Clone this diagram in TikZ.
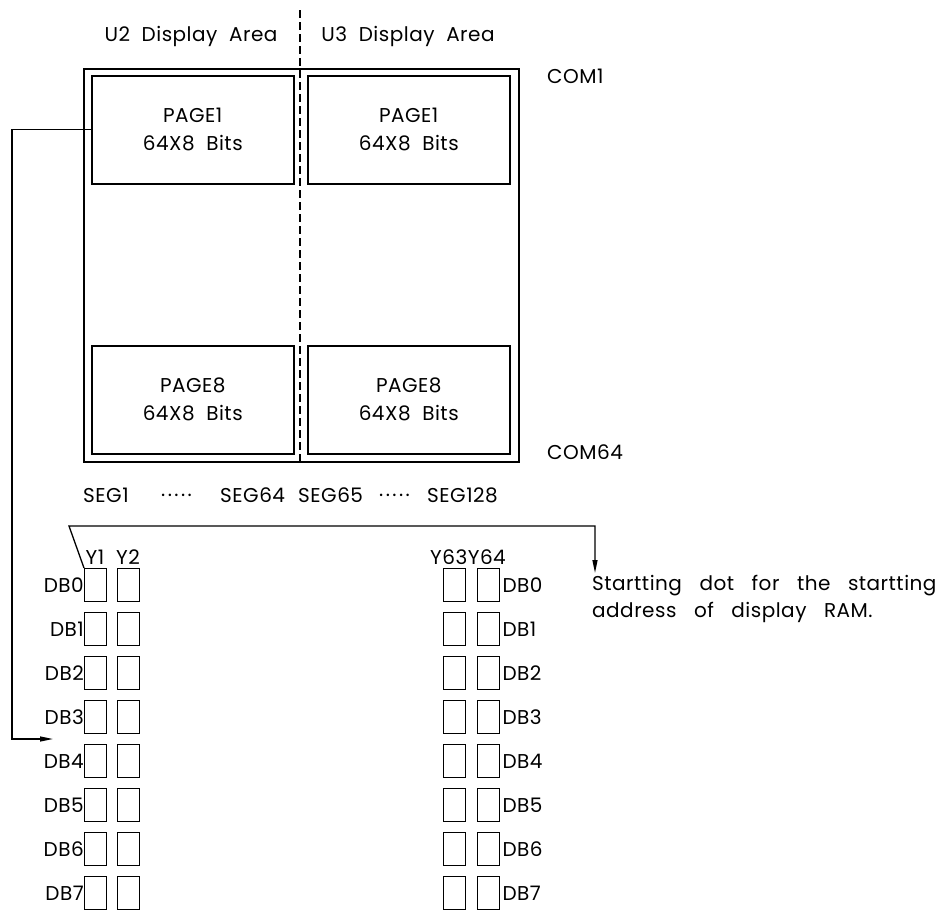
\documentclass[tikz,border=0pt]{standalone}
\usepackage{fontspec}
\setmainfont{Poppins}[LetterSpace=2.5,WordSpace=2]
\newfontfamily\notefont{Poppins}[LetterSpace=2.5,WordSpace=3]
\newfontfamily\dotfont{Poppins}[LetterSpace=12]
\usetikzlibrary{arrows.meta}
\begin{document}
\begin{tikzpicture}[x=1pt,y=-1pt,
  lw/.style={line width=1.5pt},
  pagebox/.style={draw,lw,minimum width=202pt,minimum height=108pt,inner sep=0pt,align=center,font=\fontsize{20}{28}\selectfont},
  cell/.style={draw,line width=1.3pt,minimum width=22pt,minimum height=33pt,inner sep=0pt},
  lbl/.style={inner sep=0pt,font=\fontsize{20}{24}\selectfont},
  dots/.style={lbl,font=\dotfont\fontsize{20}{24}\selectfont},
  arr/.style={line width=1.3pt,-{Triangle[length=13pt,width=5pt]}}]
\useasboundingbox (0,0) rectangle (940,910);
% outer frame
\node[draw,lw,minimum width=435pt,minimum height=393pt,anchor=north west,inner sep=0pt] (outer) at (83,68) {};
% dashed separator
\coordinate (dtop) at (300,10);
\coordinate (dbot) at (300,461);
\draw[line width=1.2pt,dash pattern=on 8pt off 4pt] (dtop) -- (dbot);
% page boxes
\node[pagebox,anchor=north west] (p1l) at (91,75) {PAGE1\\64X8 Bits};
\node[pagebox,anchor=north west] (p1r) at (307,75) {PAGE1\\64X8 Bits};
\node[pagebox,anchor=north west] (p8l) at (91,345) {PAGE8\\64X8 Bits};
\node[pagebox,anchor=north west] (p8r) at (307,345) {PAGE8\\64X8 Bits};
% headings
\node[lbl] (u2) at (191,36) {U2 Display Area};
\node[lbl] (u3) at (408,36) {U3 Display Area};
\node[lbl,anchor=west] (com1) at (547,76) {COM1};
\node[lbl,anchor=west] (com64) at (547,452) {COM64};
% SEG line
\node[lbl,anchor=west] (s1) at (83,495) {SEG1};
\node[dots,anchor=west] (d1) at (161,495) {.....};
\node[lbl,anchor=west] (s64) at (220,495) {SEG64};
\node[lbl,anchor=west] (s65) at (298,495) {SEG65};
\node[dots,anchor=west] (d2) at (379,495) {.....};
\node[lbl,anchor=west] (s128) at (427,495) {SEG128};
% Y labels
\node[lbl] (y1) at (95,557) {Y1};
\node[lbl] (y2) at (128,557) {Y2};
\node[lbl] (y6364) at (468,557) {Y63Y64};
% cells
\foreach \i in {0,...,7}{
  \node[cell,anchor=north west] (a\i) at (84,568+44*\i) {};
  \node[cell,anchor=north west] (b\i) at (117,568+44*\i) {};
  \node[cell,anchor=north west] (c\i) at (443,568+44*\i) {};
  \node[cell,anchor=north west] (e\i) at (477,568+44*\i) {};
  \node[lbl,anchor=east] (dl\i) at (a\i.west) {DB\i};
  \node[lbl,anchor=west,xshift=2pt] (dr\i) at (e\i.east) {DB\i};
}
% note
\node[lbl,anchor=west,align=left,font=\notefont\fontsize{20}{27}\selectfont] (note) at (592,599) {Startting dot for the startting\\address of display RAM.};
% connectors
\coordinate (lc) at (12,739);
\coordinate (lt) at (53,739);
\draw[arr] (p1l.west) -| (lc) -- (lt);
\coordinate (bl) at (69,526);
\coordinate (st) at (595,573);
\draw[arr] (a0.north west) -- (bl) -| (st);
\end{tikzpicture}
\end{document}
